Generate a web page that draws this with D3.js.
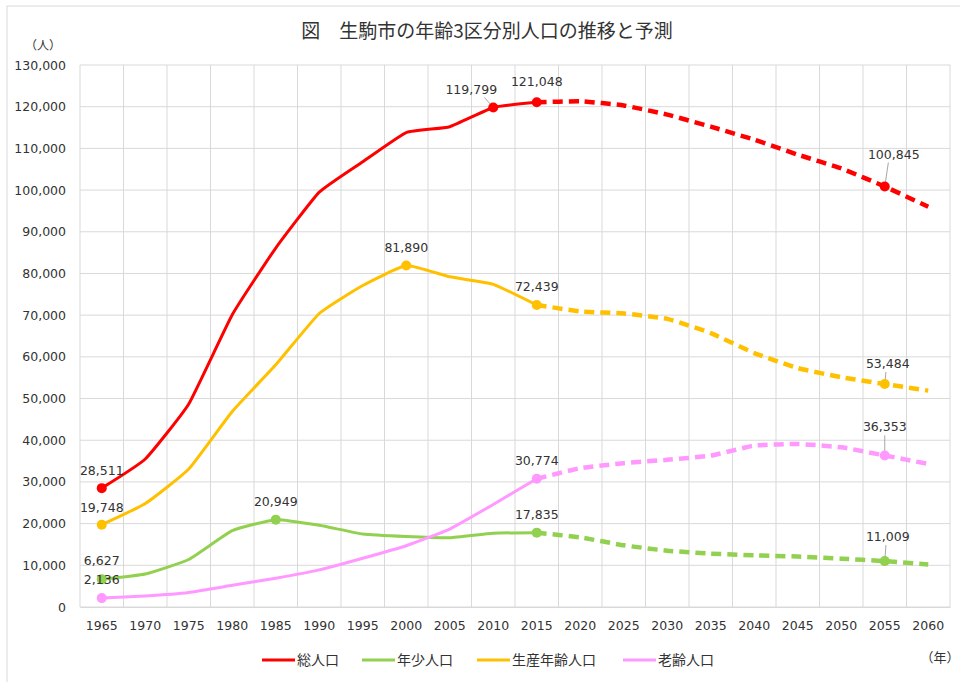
<!DOCTYPE html>
<html><head><meta charset="utf-8">
<script src="https://cdn.jsdelivr.net/npm/d3@7"></script>
<style>
body{margin:0;background:#fff;}
text{font-family:"Noto Sans CJK JP","Noto Sans",sans-serif;fill:#333;}
.num{font-family:"DejaVu Sans",sans-serif;}
</style></head>
<body><svg id="c" width="960" height="682"></svg>
<script>
const years = [1965,1970,1975,1980,1985,1990,1995,2000,2005,2010,2015,2020,2025,2030,2035,2040,2045,2050,2055,2060];
const total   = [28511,35500,48700,70100,86100,99500,106800,113800,115200,119799,121048,121300,120300,118100,115200,112100,108500,105200,100845,96000];
const youth   = [6627,7900,11400,18300,20949,19600,17500,16900,16600,17700,17835,16700,14800,13500,12800,12400,12100,11600,11009,10200];
const working = [19748,24800,33100,46900,58100,70400,77100,81890,79200,77400,72439,70900,70400,69100,65700,60900,57300,55100,53484,51900];
const elderly = [2136,2650,3500,5200,6900,8900,11700,14700,18700,24600,30774,33300,34500,35300,36300,38700,39100,38300,36353,34300];
const seriesNames = ["総人口","年少人口","生産年齢人口","老齢人口"];
const yTicks = d3.range(0,130001,10000);
const splitYear = 2015;
// labelled points: [series index, year index, dx, dy, leader]
const labels = [
  [0,0,0,-13,false],[0,9,-22,-14,true],[0,10,0,-16,false],[0,18,9,-28,true],
  [2,0,0,-13,false],[2,7,0,-14,false],[2,10,0,-14,false],[2,18,3,-16,true],
  [1,0,0,-14,false],[1,4,0,-14,false],[1,10,0,-14,false],[1,18,3,-20,true],
  [3,0,0,-14,false],[3,10,0,-14,false],[3,18,0,-24,true]
];

const data = [total, youth, working, elderly];
const colors = ["#ff0000","#92d050","#ffc000","#ff99ff"];

const svg = d3.select("#c");
const m = {l:80, r:950, t:65, b:607};
svg.append("rect").attr("x",7).attr("y",6).attr("width",970).attr("height",700)
  .attr("fill","none").attr("stroke","#d9d9d9");

const x = d3.scaleBand().domain(years).range([m.l,m.r]);
const y = d3.scaleLinear().domain([0,130000]).range([m.b,m.t]);
const cx = yr => x(yr)+x.bandwidth()/2;

// grid
const g = svg.append("g");
g.selectAll(".hg").data(yTicks).join("line")
  .attr("x1",m.l).attr("x2",m.r).attr("y1",d=>y(d)).attr("y2",d=>y(d))
  .attr("stroke","#d9d9d9").attr("stroke-width",1);
const bounds = years.map(d=>x(d)).concat([m.r]);
g.selectAll(".vg").data(bounds).join("line")
  .attr("x1",d=>d).attr("x2",d=>d).attr("y1",m.t).attr("y2",m.b)
  .attr("stroke","#d9d9d9").attr("stroke-width",1);

// axes
const ya = svg.append("g").attr("transform",`translate(${m.l},0)`)
  .call(d3.axisLeft(y).tickValues(yTicks).tickFormat(d3.format(",")).tickSize(0).tickPadding(14));
ya.select(".domain").remove();
ya.selectAll("text").attr("class","num").style("font-size","12.5px").attr("fill","#333");
const xa = svg.append("g").attr("transform",`translate(0,${m.b})`)
  .call(d3.axisBottom(x).tickSize(0).tickPadding(14));
xa.select(".domain").attr("stroke","#d9d9d9");
xa.selectAll("text").attr("class","num").style("font-size","12.5px").attr("fill","#333");

// lines
const line = d3.line().x(d=>cx(d[0])).y(d=>y(d[1])).curve(d3.curveCardinal.tension(0.6));
const si = years.indexOf(splitYear);
data.forEach((vals,i)=>{
  const pts = years.map((yr,j)=>[yr,vals[j]]);
  svg.append("path").datum(pts.slice(0,si+1)).attr("d",line)
    .attr("fill","none").attr("stroke",colors[i]).attr("stroke-width",3).attr("stroke-linejoin","round");
  svg.append("path").datum(pts.slice(si)).attr("d",line)
    .attr("fill","none").attr("stroke",colors[i]).attr("stroke-width",4.5).attr("stroke-dasharray","10,6");
});

// labels & markers
labels.forEach(([s,j,dx,dy,leader])=>{
  const px = cx(years[j]), py = y(data[s][j]);
  if(leader){
    svg.append("line").attr("x1",px+dx*0.4).attr("y1",py+dy+4).attr("x2",px).attr("y2",py)
      .attr("stroke","#a6a6a6").attr("stroke-width",1);
  }
  svg.append("circle").attr("cx",px).attr("cy",py).attr("r",5).attr("fill",colors[s]);
  svg.append("text").attr("class","num").attr("x",px+dx).attr("y",py+dy).attr("text-anchor","middle")
    .style("font-size","12.5px").text(d3.format(",")(data[s][j]));
});

// title & units
svg.append("text").attr("x",487).attr("y",38).attr("text-anchor","middle")
  .style("font-size","19px").style("font-weight","400").attr("fill","#222").text("図　生駒市の年齢3区分別人口の推移と予測");
svg.append("text").attr("x",43).attr("y",50).attr("text-anchor","middle").style("font-size","12px").text("（人）");
svg.append("text").attr("x",940).attr("y",662).attr("text-anchor","middle").style("font-size","13px").text("（年）");

// legend
const legX = [262,362,477,623];
seriesNames.forEach((n,i)=>{
  const lg = svg.append("g").attr("transform",`translate(${legX[i]},660)`);
  lg.append("line").attr("x1",0).attr("x2",33).attr("y1",0).attr("y2",0).attr("stroke",colors[i]).attr("stroke-width",3);
  lg.append("text").attr("x",35).attr("y",5).style("font-size","14px").text(n);
});
</script></body></html>
